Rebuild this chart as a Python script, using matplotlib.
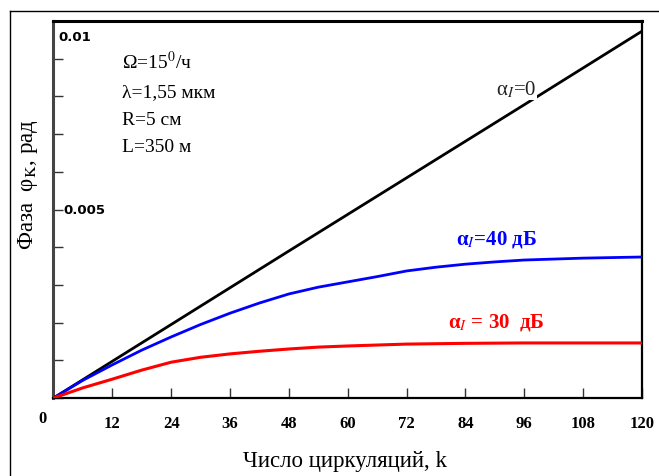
import matplotlib
matplotlib.use("Agg")
import matplotlib.pyplot as plt
from matplotlib.lines import Line2D

plt.rcParams['font.family'] = ['Liberation Serif', 'DejaVu Serif']
plt.rcParams['mathtext.fontset'] = 'stix'

# Data (phase in rad vs circulation number k)
k_black = [0, 24, 48, 72, 96, 120]
phi_black = [0.0, 0.00195, 0.0039, 0.00584, 0.00778, 0.00973]

k_blue = [0, 6, 12, 18, 24, 30, 36, 42, 48, 54, 60, 66, 72, 78, 84, 90, 96, 108, 120]
phi_blue = [0.0, 0.00047, 0.00088, 0.00127, 0.00162, 0.00195, 0.00225, 0.00252,
            0.00276, 0.00294, 0.00308, 0.00322, 0.00337, 0.00347, 0.00355, 0.00361,
            0.00366, 0.00371, 0.00374]

k_red = [0, 6, 12, 18, 24, 30, 36, 42, 48, 54, 60, 72, 84, 96, 120]
phi_red = [0.0, 0.00027, 0.0005, 0.00074, 0.00095, 0.00108, 0.00117, 0.00124,
           0.0013, 0.00135, 0.00138, 0.00143, 0.00145, 0.00146, 0.00146]

xticks = [12, 24, 36, 48, 60, 72, 84, 96, 108, 120]
yticks = [0.001 * i for i in range(0, 11)]

W, H = 659, 477
fig = plt.figure(figsize=(W / 100, H / 100), dpi=100)
ax = fig.add_axes([53.5 / W, 1 - 399 / H, (642 - 53.5) / W, (399 - 22) / H])

ax.plot(k_black, phi_black, color='black', lw=2.0, zorder=3)
ax.plot(k_blue, phi_blue, color='#0000ff', lw=2.0, zorder=3)
ax.plot(k_red, phi_red, color='#ff0000', lw=2.2, zorder=3)

ax.set_xlim(0, 120)
ax.set_ylim(0, 0.01)
ax.set_xticks(xticks)
ax.set_xticklabels([str(t) for t in xticks], fontsize=12, fontweight='bold')
ax.set_yticks(yticks)
ax.set_yticklabels([])
ax.tick_params(axis='both', direction='in', length=7, width=1.0, color='#333333')
ax.tick_params(axis='x', pad=12)
for s in ['top', 'left']:
    ax.spines[s].set_linewidth(2.2)
for s in ['right', 'bottom']:
    ax.spines[s].set_linewidth(1.6)
ax.spines['left'].set_color('#444444')

ax.text(1.0, 0.00958, '0.01', fontsize=9.5, fontweight='bold', family=['DejaVu Sans'],
        ha='left', va='center')
ax.text(2.1, 0.00499, '0.005', fontsize=9.5, fontweight='bold', family=['DejaVu Sans'],
        ha='left', va='center')
ax.text(-2.3, -0.00052, '0', fontsize=12, fontweight='bold', ha='center', va='center',
        clip_on=False)

ax.text(14, 0.00894, r'Ω=15$^{0}$/ч', fontsize=14, ha='left', va='center')
ax.text(14, 0.00812, 'λ=1,55 мкм', fontsize=14, ha='left', va='center')
ax.text(14, 0.0074, 'R=5 см', fontsize=14, ha='left', va='center')
ax.text(14, 0.00666, 'L=350 м', fontsize=14, ha='left', va='center')

ax.text(98.4, 0.0082, r'α$_{I}$=0', fontsize=15, ha='right', va='center',
        color='#222222', zorder=5,
        bbox=dict(facecolor='white', edgecolor='none', pad=0.5))
ax.text(90.4, 0.00422, r'α$_{I}$=40 дБ', fontsize=15, fontweight='bold',
        color='#0000ff', ha='center', va='center')
ax.text(90.4, 0.00204, r'α$_{I}$ = 30  дБ', fontsize=15, fontweight='bold',
        color='#ff0000', ha='center', va='center')

fig.text(28 / W, 1 - 185 / H, r'Фаза  φ$_{\mathrm{K}}$, рад', rotation=90,
         fontsize=16.5, ha='center', va='center')
fig.text(345 / W, 1 - 462 / H, 'Число циркуляций, k', fontsize=16.5,
         ha='center', va='center')

# outer frame
fig.add_artist(Line2D([10 / W, 1.0], [1 - 12 / H, 1 - 12 / H], color='black', lw=1.0,
                      transform=fig.transFigure))
fig.add_artist(Line2D([10 / W, 10 / W], [1 - 12 / H, 0.0], color='black', lw=1.0,
                      transform=fig.transFigure))

fig.savefig('out.png', dpi=100)
